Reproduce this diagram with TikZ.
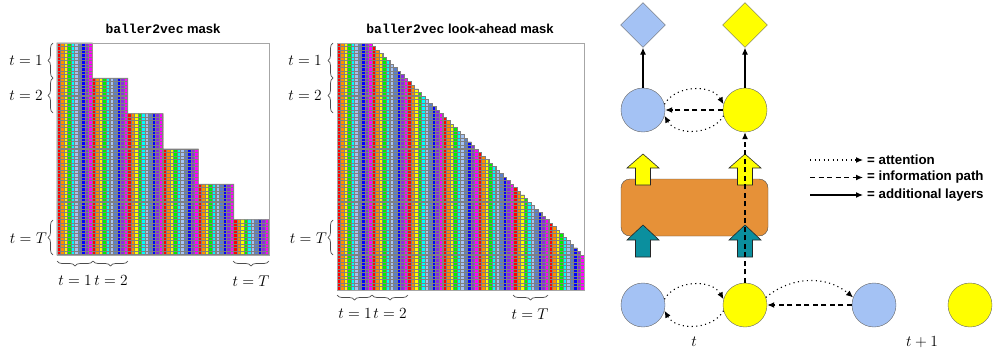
\documentclass[tikz,border=0pt]{standalone}
\usepackage{fix-cm}
\usepackage{fontspec}
\setsansfont{Liberation Sans}
\setmonofont{Liberation Mono}
\usetikzlibrary{arrows.meta,positioning,shapes.geometric,decorations.pathreplacing}

\definecolor{cell0}{HTML}{FF0000}
\definecolor{cell1}{HTML}{FF8C00}
\definecolor{cell2}{HTML}{FFFF00}
\definecolor{cell3}{HTML}{00F000}
\definecolor{cell4}{HTML}{00FFFF}
\definecolor{cell5}{HTML}{A4C2F4}
\definecolor{cell6}{HTML}{5B7FC7}
\definecolor{cell7}{HTML}{0000FF}
\definecolor{cell8}{HTML}{8A2BE2}
\definecolor{cell9}{HTML}{FF00FF}
\definecolor{cellgrid}{HTML}{808080}
\definecolor{ballblue}{HTML}{A4C2F4}
\definecolor{ballyellow}{HTML}{FFFF00}
\definecolor{tforange}{HTML}{E69138}
\definecolor{embteal}{HTML}{0B8F9E}

\begin{document}
\begin{tikzpicture}[x=1pt, y=-1pt,
  ball/.style={circle, draw=gray!80!black, minimum size=44pt, inner sep=0pt},
  outd/.style={diamond, draw=gray!80!black, minimum width=45pt,
               minimum height=45pt, inner sep=0pt},
  tip/.style={-{Latex[length=7pt,width=6pt]}},
  attn/.style={tip, line width=1.1pt, dash pattern=on 1.1pt off 3.4pt},
  info/.style={tip, line width=1.2pt, dash pattern=on 5pt off 3.5pt},
  layer/.style={tip, line width=1.1pt},
  blockarr/.style={draw=gray!30!black, line width=0.6pt},
  brc/.style={decorate, decoration={brace, amplitude=5pt},
              draw=gray!60!black, line width=0.7pt},
  tlbl/.style={font=\fontsize{15.5}{18}\selectfont, inner sep=0pt},
  ttl/.style={font=\fontsize{13}{15}\selectfont\sffamily\bfseries},
  leg/.style={font=\fontsize{13.3}{15}\selectfont\sffamily\bfseries,
              inner sep=1pt, anchor=west}]

\useasboundingbox (0,0) rectangle (994,356);
\def\cs{3.5333}

% baller2vec mask
\node[ttl] (ttlA) at (163,29) {{\ttfamily baller2vec} mask};
\begin{scope}
  \clip (57,43) \foreach \k in {1,...,6} { -- ({57+\k*10*\cs},{43+(\k-1)*10*\cs})
        -- ({57+\k*10*\cs},{43+\k*10*\cs}) } -- (57,255) -- cycle;
  \foreach \j in {0,...,59} {
    \pgfmathtruncatemacro\cc{mod(\j,10)}
    \fill[cell\cc] ({57+\j*\cs},43) rectangle ({57+(\j+1)*\cs},255);
  }
  \foreach \i in {0,...,60} {
    \draw[cellgrid, line width=1.1pt] ({57+\i*\cs},43) -- ({57+\i*\cs},255);
    \draw[cellgrid, line width=1.1pt] (57,{43+\i*\cs}) -- (269,{43+\i*\cs});
  }
\end{scope}
\draw[cellgrid, line width=0.8pt] (57,43) \foreach \k in {1,...,6} {
      -- ({57+\k*10*\cs},{43+(\k-1)*10*\cs}) -- ({57+\k*10*\cs},{43+\k*10*\cs}) }
      -- (57,255) -- cycle;
\draw[gray!70, line width=1pt] (57,43) rectangle (269,255);

\draw[brc] (53,78) -- (53,43);
\draw[brc] (53,113) -- (53,78);
\draw[brc] (53,255) -- (53,220);
\node[tlbl, anchor=east] (la1) at (43,61) {$t=1$};
\node[tlbl, anchor=east] (la2) at (43,96) {$t=2$};
\node[tlbl, anchor=east] (laT) at (47,238) {$t=T$};
\draw[brc] (93,261) -- (57,261);
\draw[brc] (128,261) -- (93,261);
\draw[brc] (269,261) -- (233,261);
\node[tlbl] (lb1) at (75,281) {$t=1$};
\node[tlbl] (lb2) at (111,281) {$t=2$};
\node[tlbl] (lbT) at (251,281) {$t=T$};

% baller2vec look-ahead mask
\node[ttl] (ttlB) at (460,29) {{\ttfamily baller2vec} look-ahead mask};
\begin{scope}
  \clip (337,43) \foreach \r in {0,...,59} { -- ({337+(10+\r)*\cs},{43+\r*\cs})
        -- ({337+(10+\r)*\cs},{43+(\r+1)*\cs}) } -- ({337+70*\cs},{43+60*\cs})
        -- ({337+70*\cs},{43+70*\cs}) -- (337,{43+70*\cs}) -- cycle;
  \foreach \j in {0,...,69} {
    \pgfmathtruncatemacro\cc{mod(\j,10)}
    \fill[cell\cc] ({337+\j*\cs},43) rectangle ({337+(\j+1)*\cs},{43+70*\cs});
  }
  \foreach \i in {0,...,70} {
    \draw[cellgrid, line width=1.1pt] ({337+\i*\cs},43) -- ({337+\i*\cs},{43+70*\cs});
    \draw[cellgrid, line width=1.1pt] (337,{43+\i*\cs}) -- ({337+70*\cs},{43+\i*\cs});
  }
\end{scope}
\draw[cellgrid, line width=0.8pt] (337,43) \foreach \r in {0,...,59} {
      -- ({337+(10+\r)*\cs},{43+\r*\cs}) -- ({337+(10+\r)*\cs},{43+(\r+1)*\cs}) }
      -- ({337+70*\cs},{43+60*\cs}) -- ({337+70*\cs},{43+70*\cs})
      -- (337,{43+70*\cs}) -- cycle;
\draw[gray!70, line width=1pt] (337,43) rectangle (584,290);

\draw[brc] (333,78) -- (333,43);
\draw[brc] (333,113) -- (333,78);
\draw[brc] (333,255) -- (333,220);
\node[tlbl, anchor=east] (ra1) at (322,61) {$t=1$};
\node[tlbl, anchor=east] (ra2) at (322,96) {$t=2$};
\node[tlbl, anchor=east] (raT) at (327,238) {$t=T$};
\draw[brc] (372,295) -- (337,295);
\draw[brc] (408,295) -- (372,295);
\draw[brc] (548,295) -- (513,295);
\node[tlbl] (rb1) at (355,314) {$t=1$};
\node[tlbl] (rb2) at (390,314) {$t=2$};
\node[tlbl] (rbT) at (530,314) {$t=T$};

% model
\node[outd, fill=ballblue] (outb) at (643,25) {};
\node[outd, fill=ballyellow] (outy) at (745,25) {};
\node[ball, fill=ballblue] (hb) at (643,110) {};
\node[ball, fill=ballyellow] (hy) at (745,110) {};
\node[ball, fill=ballblue] (pb1) at (643,305) {};
\node[ball, fill=ballyellow] (py1) at (745,305) {};
\node[ball, fill=ballblue] (pb2) at (874,305) {};
\node[ball, fill=ballyellow] (py2) at (970,305) {};
\node[draw=gray!60!black, fill=tforange, rounded corners=9pt, minimum width=147pt,
      minimum height=57pt] (tfm) at (694.5,207.5) {};
\foreach \ax in {643,745} {
  \draw[blockarr, fill=ballyellow] (\ax,154) -- ++(16,14) -- ++(-8.5,0) -- ++(0,17)
        -- ++(-15,0) -- ++(0,-17) -- ++(-8.5,0) -- cycle;
  \draw[blockarr, fill=embteal] (\ax,225) -- ++(16,15) -- ++(-8.5,0) -- ++(0,17)
        -- ++(-15,0) -- ++(0,-17) -- ++(-8.5,0) -- cycle;
}
\node[tlbl] (lt) at (694,342) {$t$};
\node[tlbl] (lt1) at (922,342) {$t+1$};

\draw[layer] (hb) -- (outb);
\draw[layer] (hy) -- (outy);
\draw[info] (hy) -- (hb);
\draw[attn] (hb.15) to[bend left=60] (hy.165);
\draw[attn] (hy.195) to[bend left=60] (hb.-15);
\draw[info] (py1) -- (hy);
\draw[attn] (pb1.15) to[bend left=60] (py1.165);
\draw[attn] (py1.195) to[bend left=60] (pb1.-15);
\draw[info] (pb2) -- (py1);
\draw[attn] (py1.20) to[bend left=40] (pb2.160);

% legend
\node[leg] (legA) at (866,160) {= attention};
\node[leg] (legI) at (866,177.5) {= information path};
\node[leg] (legL) at (866,195) {= additional layers};
\coordinate (legAs) at (810,160);
\coordinate (legIs) at (810,177.5);
\coordinate (legLs) at (810,195);
\draw[attn, shorten >=3pt] (legAs) -- (legA.west);
\draw[info, shorten >=3pt] (legIs) -- (legI.west);
\draw[layer, shorten >=3pt] (legLs) -- (legL.west);
\end{tikzpicture}
\end{document}
